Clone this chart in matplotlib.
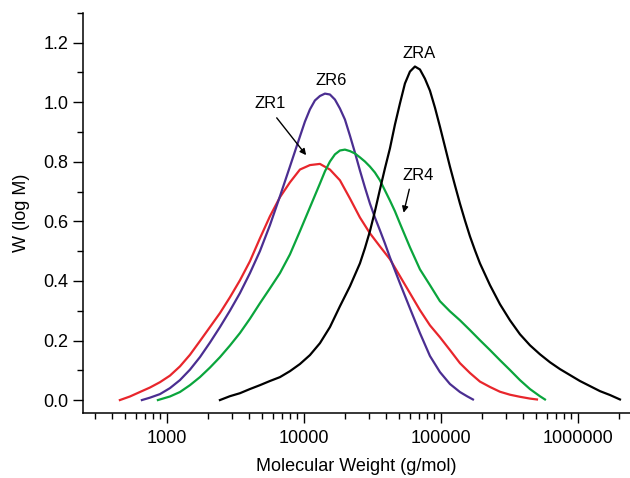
import matplotlib
matplotlib.use("Agg")
import matplotlib.pyplot as plt
from matplotlib.ticker import LogLocator, FixedLocator, MultipleLocator, NullFormatter

plt.rcParams['font.family'] = ['Liberation Sans', 'DejaVu Sans']

# ZR1 (red)
zr1_m = [456, 540, 638, 755, 894, 1057, 1251, 1480, 1750, 2071, 2450, 2897,
         3428, 4055, 4797, 5675, 6714, 7943, 9397, 11117, 13152, 15560,
         18408, 21777, 25757, 30471, 36050, 42650, 50460, 59700, 70620,
         83550, 98830, 116900, 138300, 163600, 193600, 229100, 270900,
         320500, 379200, 448600, 504600]
zr1_w = [0.0, 0.012, 0.027, 0.042, 0.060, 0.082, 0.113, 0.152, 0.198, 0.245,
         0.292, 0.345, 0.402, 0.466, 0.543, 0.617, 0.681, 0.731, 0.774, 0.789,
         0.793, 0.774, 0.738, 0.677, 0.613, 0.560, 0.516, 0.473, 0.416, 0.359,
         0.302, 0.251, 0.211, 0.168, 0.124, 0.091, 0.062, 0.044, 0.028, 0.018,
         0.011, 0.005, 0.002]

# ZR6 (purple)
zr6_m = [660, 755, 894, 1057, 1251, 1480, 1750, 2071, 2450, 2897, 3428, 4055,
         4797, 5675, 6714, 7943, 9397, 10221, 11117, 12090, 13152, 14307,
         15560, 16925, 18408, 20020, 21777, 23686, 25757, 28015, 30471, 33143,
         36050, 39212, 42650, 50460, 59700, 70620, 83550, 98830, 116900,
         138300, 155600, 172100]
zr6_w = [0.0, 0.008, 0.020, 0.040, 0.067, 0.102, 0.144, 0.193, 0.245, 0.300,
         0.359, 0.426, 0.500, 0.587, 0.684, 0.784, 0.885, 0.935, 0.976, 1.006,
         1.021, 1.029, 1.026, 1.009, 0.979, 0.942, 0.888, 0.831, 0.771, 0.714,
         0.660, 0.613, 0.570, 0.526, 0.479, 0.392, 0.308, 0.225, 0.148, 0.094,
         0.054, 0.027, 0.013, 0.002]

# ZR4 (green)
zr4_m = [864, 1057, 1251, 1480, 1750, 2071, 2450, 2897, 3428, 4055, 4797,
         5675, 6714, 7943, 9397, 11117, 13152, 14307, 15560, 16925, 18408,
         20020, 21777, 23686, 25757, 28015, 30471, 33143, 36050, 39212, 42650,
         46390, 50460, 54880, 59700, 70620, 83550, 98830, 116900, 138300,
         163600, 193600, 229100, 270900, 320500, 379200, 448600, 530000,
         577300]
zr4_w = [0.0, 0.012, 0.027, 0.050, 0.077, 0.109, 0.144, 0.183, 0.225, 0.273,
         0.325, 0.375, 0.426, 0.489, 0.567, 0.647, 0.727, 0.768, 0.801, 0.825,
         0.838, 0.841, 0.836, 0.828, 0.815, 0.801, 0.784, 0.764, 0.738, 0.704,
         0.670, 0.634, 0.593, 0.553, 0.513, 0.439, 0.386, 0.332, 0.298, 0.268,
         0.235, 0.201, 0.168, 0.134, 0.101, 0.067, 0.037, 0.013, 0.002]

# ZRA (black)
zra_m = [2450, 2897, 3428, 4055, 4797, 5675, 6714, 7943, 9397, 11117, 13152,
         15560, 18408, 21777, 25757, 28015, 30471, 33143, 36050, 39212, 42650,
         46390, 50460, 54880, 59700, 64930, 70620, 76820, 83550, 90880, 98830,
         107500, 116900, 127200, 138300, 150500, 163600, 178000, 193600,
         229100, 270900, 320500, 379200, 448600, 530000, 627900, 742800,
         878700, 1039500, 1229700, 1455000, 1721000, 2036000]
zra_w = [0.0, 0.013, 0.023, 0.037, 0.050, 0.064, 0.077, 0.097, 0.121, 0.151,
         0.191, 0.245, 0.315, 0.382, 0.459, 0.510, 0.567, 0.634, 0.707, 0.778,
         0.845, 0.925, 0.996, 1.063, 1.103, 1.120, 1.110, 1.079, 1.039, 0.982,
         0.918, 0.851, 0.784, 0.721, 0.660, 0.603, 0.550, 0.503, 0.459, 0.386,
         0.322, 0.268, 0.221, 0.184, 0.154, 0.127, 0.104, 0.084, 0.064, 0.047,
         0.030, 0.017, 0.002]

fig = plt.figure(figsize=(6.3, 4.78), dpi=100)
ax = fig.add_axes([0.132, 0.135, 0.868, 0.838])

ax.plot(zr1_m, zr1_w, color='#e8262c', lw=1.6)
ax.plot(zr6_m, zr6_w, color='#4b2e91', lw=1.6)
ax.plot(zr4_m, zr4_w, color='#0aa53c', lw=1.6)
ax.plot(zra_m, zra_w, color='black', lw=1.6)

ax.set_xscale('log')
ax.set_xlim(246, 2.41e6)
ax.set_ylim(-0.045, 1.3)

ax.xaxis.set_major_locator(FixedLocator([1000, 10000, 100000, 1000000]))
ax.set_xticklabels(['1000', '10000', '100000', '1000000'])
ax.xaxis.set_minor_locator(LogLocator(base=10, subs=range(2, 10)))
ax.xaxis.set_minor_formatter(NullFormatter())
ax.yaxis.set_major_locator(FixedLocator([0.0, 0.2, 0.4, 0.6, 0.8, 1.0, 1.2]))
ax.set_yticklabels(['0.0', '0.2', '0.4', '0.6', '0.8', '1.0', '1.2'])
ax.yaxis.set_minor_locator(MultipleLocator(0.1))

ax.tick_params(which='major', length=7, width=1, labelsize=13, direction='out')
ax.tick_params(axis='x', which='major', pad=5)
ax.tick_params(which='minor', length=4, width=1, direction='out')

for side in ['top', 'right']:
    ax.spines[side].set_visible(False)
for side in ['left', 'bottom']:
    ax.spines[side].set_linewidth(1.1)

ax.set_xlabel('Molecular Weight (g/mol)', fontsize=13, labelpad=8)
ax.set_ylabel('W (log M)', fontsize=13, labelpad=10)

lab = dict(fontsize=12, ha='center', va='center')
ax.text(5680, 0.996, 'ZR1', **lab)
ax.text(15800, 1.073, 'ZR6', **lab)
ax.text(69500, 1.163, 'ZRA', **lab)
ax.text(68200, 0.754, 'ZR4', **lab)

arr = dict(arrowstyle='-|>', color='black', lw=1, mutation_scale=9)
ax.annotate('', xy=(10740, 0.815), xytext=(6180, 0.955), arrowprops=arr)
ax.annotate('', xy=(53100, 0.620), xytext=(59700, 0.717), arrowprops=arr)

fig.savefig('out.png', dpi=100)
